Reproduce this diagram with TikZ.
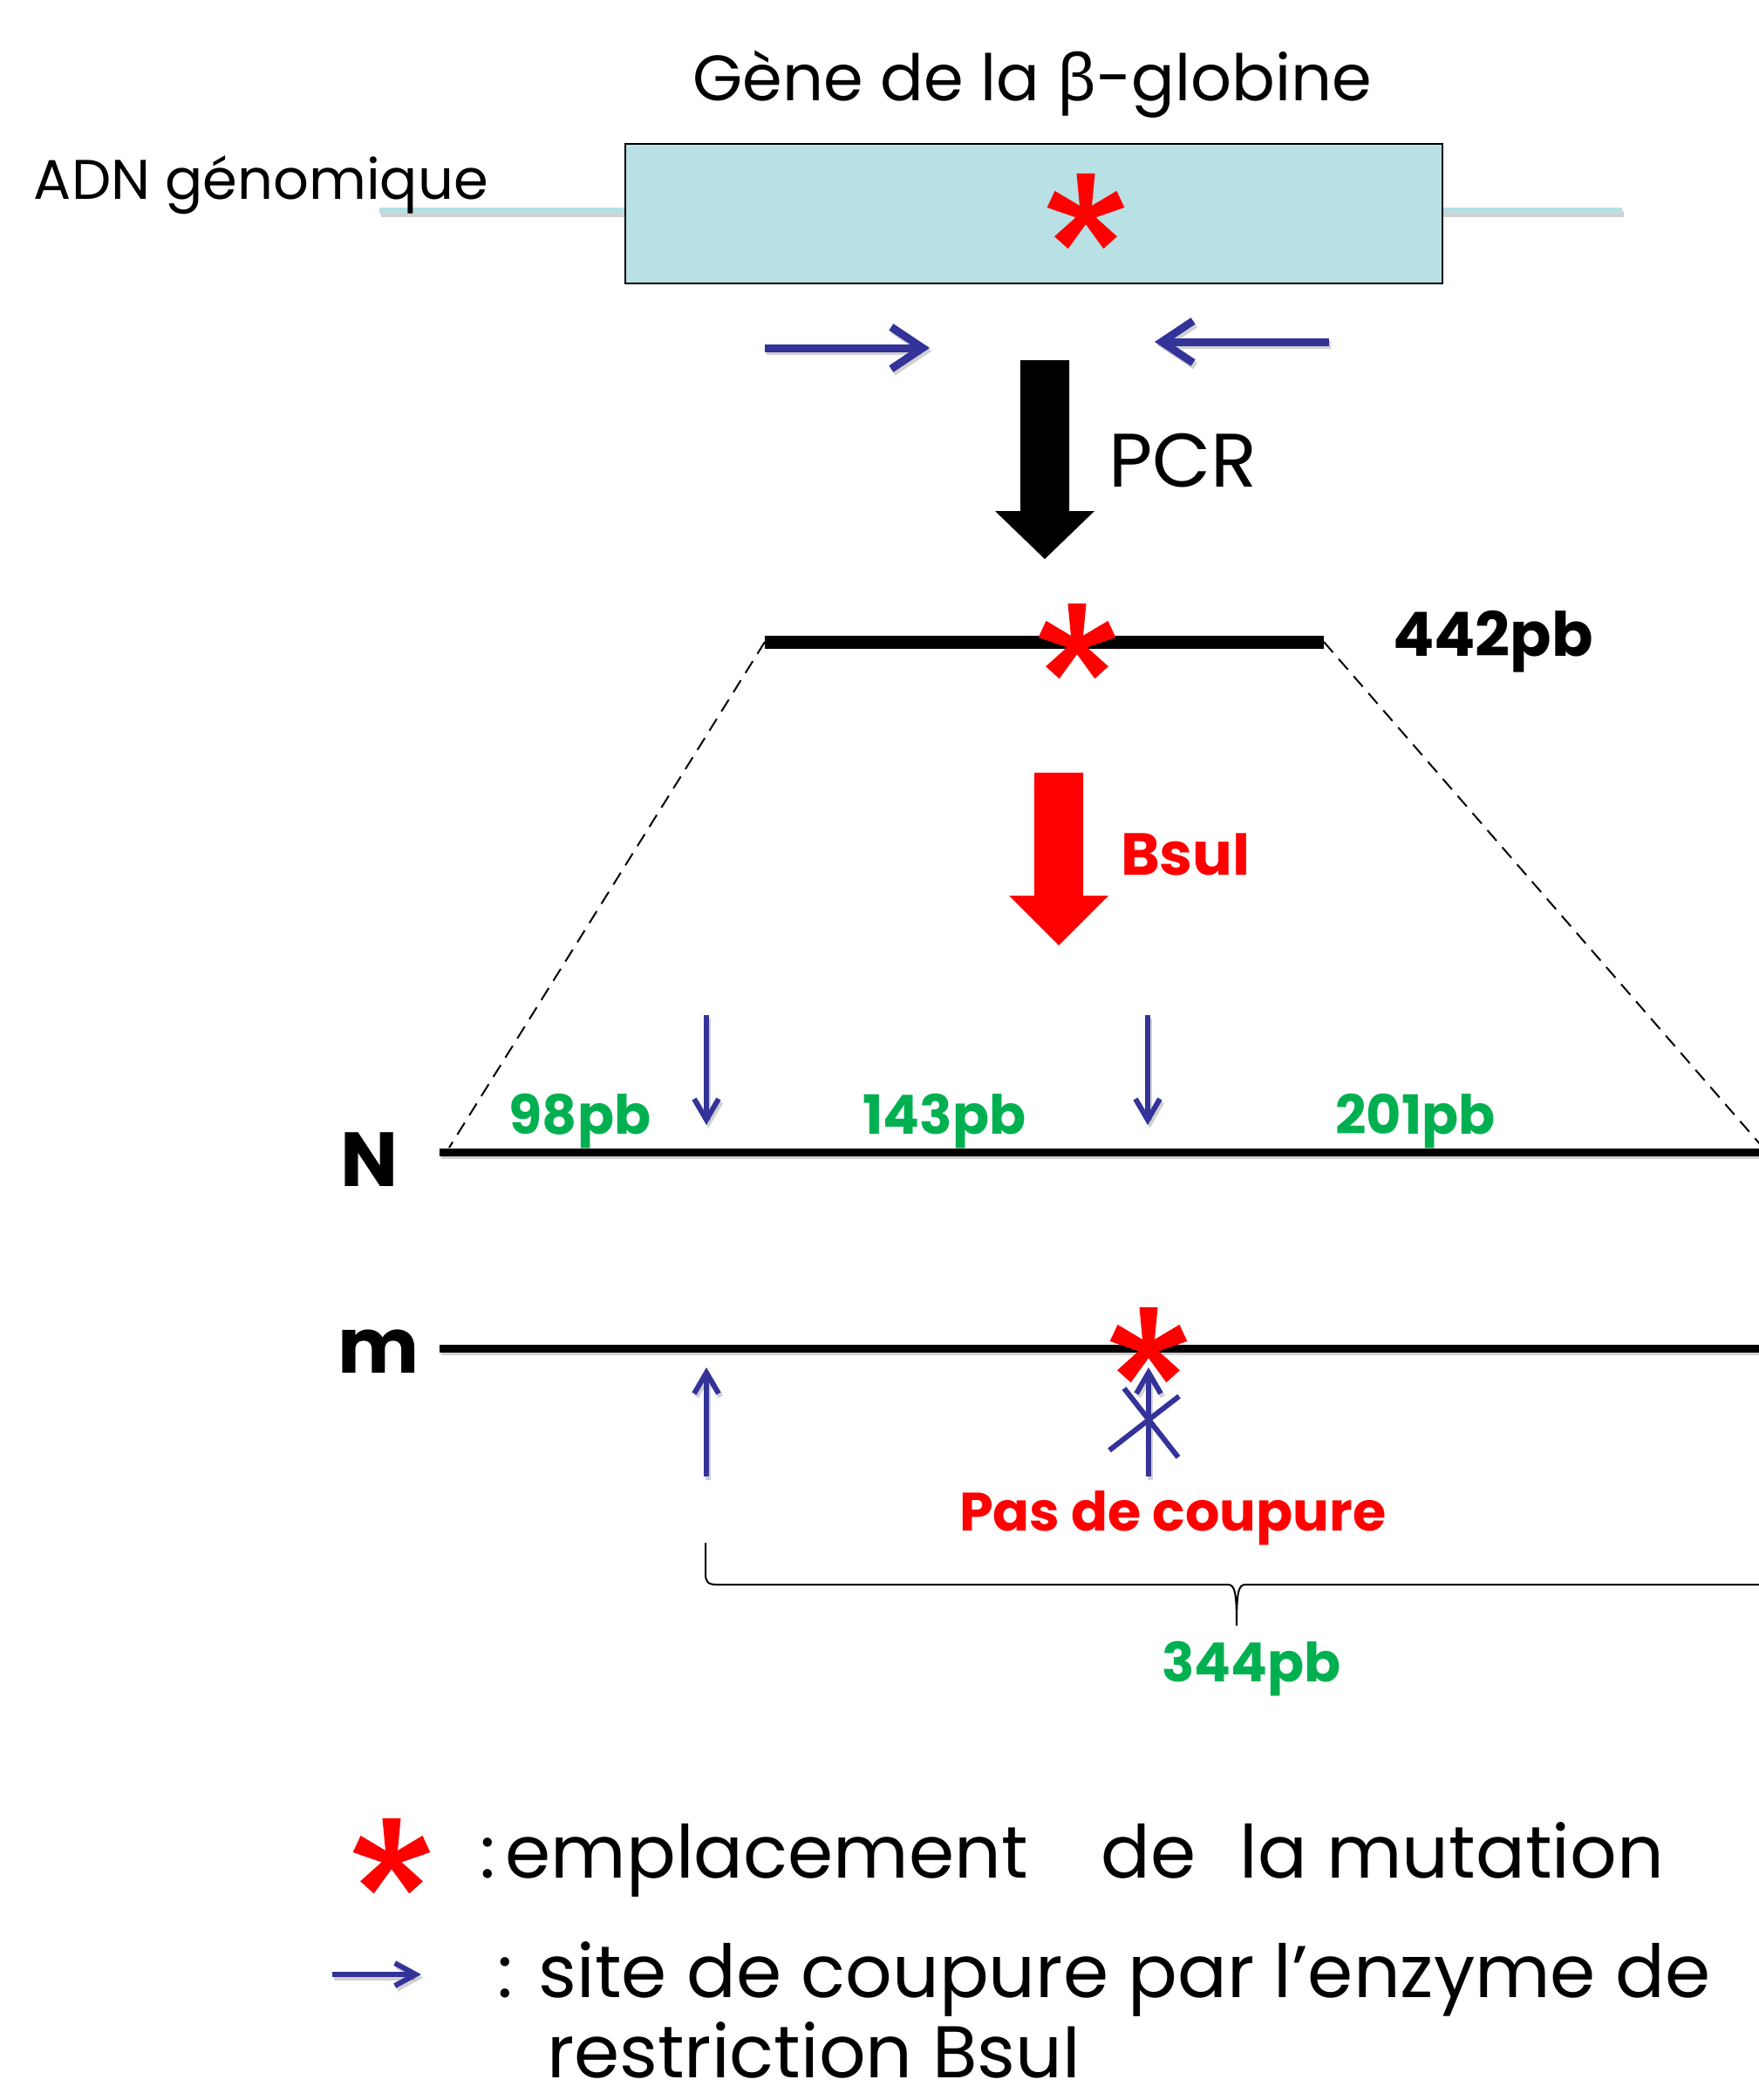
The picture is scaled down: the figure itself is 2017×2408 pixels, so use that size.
\documentclass[tikz,border=0pt]{standalone}
\usepackage{fontspec}
\setmainfont{Poppins}
\newfontfamily\grk{Noto Sans}
\usetikzlibrary{arrows.meta}

\definecolor{boxfill}{RGB}{185,224,228}
\definecolor{dnateal}{RGB}{183,222,226}
\definecolor{siteblue}{RGB}{51,51,153}
\definecolor{sizegreen}{RGB}{0,176,80}
\definecolor{mutred}{RGB}{255,0,0}
\newcommand\setfs[1]{\fontsize{#1}{#1}\selectfont}

\begin{document}
\begin{tikzpicture}[x=0.5pt,y=-0.5pt,
  lbl/.style={inner sep=0pt, outer sep=0pt},
  shadowcopy/.style={draw=black, draw opacity=0.18, transform canvas={xshift=1.2pt,yshift=-1.8pt}},
  primer/.style={draw=siteblue, line width=4.5pt, -{Straight Barb[length=18pt,width=24pt]}},
  cutsite/.style={draw=siteblue, line width=3pt, -{Straight Barb[length=12pt,width=14pt]}},
  legendarrow/.style={draw=siteblue, line width=3pt, -{Straight Barb[length=12pt,width=13pt]}},
  fragment/.style={draw=black, line width=4.5pt},
  amplicon/.style={draw=black, line width=7.5pt},
  zoomedge/.style={draw=black, line width=1pt, dash pattern=on 8pt off 5pt},
  sizelbl/.style={lbl, anchor=base, text=sizegreen, font=\bfseries\setfs{31pt}},
  alleleLbl/.style={lbl, anchor=base west, font=\bfseries\setfs{44pt}},
  legendtxt/.style={lbl, anchor=base west, font=\setfs{42pt}},
  mutstar/.pic={
    \foreach \a/\l in {90/48, 25/44, 155/44, -48/42, 228/42}
      \fill[mutred, rotate=\a] (0,-6) -- (\l,-10.5) -- (\l,10.5) -- (0,6) -- cycle;
    \fill[mutred] (0,0) circle (9);
  }
]
\path[use as bounding box] (0,0) rectangle (2017,2408);
\fill[white] (0,0) rectangle (2017,2408);
\clip (0,0) rectangle (2017,2408);

% ---------- genomic DNA and the beta-globin gene ----------
\coordinate (dnaL) at (435,242);
\coordinate (dnaR) at (1860,242);
\draw[shadowcopy, line width=3.5pt] (dnaL) -- (dnaR);
\draw[dnateal, line width=3.5pt] (dnaL) -- (dnaR);
\node (gene) [draw=black, line width=1pt, fill=boxfill, minimum width=468.5pt,
  minimum height=80pt, inner sep=0pt] at (1185.5,245) {};
\pic at (1245,247) {mutstar};
\node (title) [lbl, anchor=base] at (1184,116) {\setfs{36.8pt}Gène de la {\grk β}-globine};
\node (adn) [lbl, anchor=base west] at (39,228) {\setfs{32pt}ADN génomique};

% ---------- primers ----------
\coordinate (pf1) at (877,399);  \coordinate (pf2) at (1066,399);
\coordinate (pr1) at (1524,392); \coordinate (pr2) at (1324,392);
\draw[primer, shadowcopy] (pf1) -- (pf2);
\draw[primer, shadowcopy] (pr1) -- (pr2);
\draw[primer] (pf1) -- (pf2);
\draw[primer] (pr1) -- (pr2);

% ---------- PCR step ----------
\fill[black] (1170,413) -- (1226,413) -- (1226,586) -- (1255,586) -- (1198,641)
  -- (1141,586) -- (1170,586) -- cycle;
\node (pcr) [lbl, anchor=base west] at (1271,558) {\setfs{43.5pt}PCR};

% ---------- amplicon ----------
\coordinate (ampL) at (877,736);
\coordinate (ampR) at (1518,736);
\draw[amplicon] (ampL) -- (ampR);
\pic at (1235,740) {mutstar};
\node (size442) [lbl, anchor=base west] at (1597,752) {\bfseries\setfs{35pt}442pb};

% ---------- BsuI digestion ----------
\fill[mutred] (1186,886) -- (1242,886) -- (1242,1027) -- (1271,1027) -- (1214,1084)
  -- (1157,1027) -- (1186,1027) -- cycle;
\node (bsu) [lbl, anchor=base west, text=mutred] at (1285,1003) {\bfseries\setfs{34pt}BsuI};

% ---------- normal allele N ----------
\coordinate (nL) at (504,1321);
\coordinate (nR) at (2030,1321);
\coordinate (nZoom) at (515,1316);
\coordinate (nZoomR) at (2026,1321);
\draw[zoomedge] (ampL) -- (nZoom);
\draw[zoomedge] (ampR) -- (nZoomR);
\draw[shadowcopy, line width=4.5pt] (nL) -- (nR);
\draw[fragment] (nL) -- (nR);
\node (nlbl) [alleleLbl] at (390,1360) {N};
\coordinate (cutA1) at (810,1164); \coordinate (cutA2) at (810,1290);
\coordinate (cutB1) at (1316,1164); \coordinate (cutB2) at (1316,1290);
\draw[cutsite, shadowcopy] (cutA1) -- (cutA2);
\draw[cutsite, shadowcopy] (cutB1) -- (cutB2);
\draw[cutsite] (cutA1) -- (cutA2);
\draw[cutsite] (cutB1) -- (cutB2);
\node (f98) [sizelbl] at (665,1300) {98pb};
\node (f143) [sizelbl] at (1083,1300) {143pb};
\node (f201) [sizelbl] at (1623,1300) {201pb};

% ---------- mutant allele m ----------
\coordinate (mL) at (504,1546);
\coordinate (mR) at (2030,1546);
\draw[shadowcopy, line width=4.5pt] (mL) -- (mR);
\draw[fragment] (mL) -- (mR);
\node (mlbl) [alleleLbl] at (387,1574) {m};
\pic at (1317,1547) {mutstar};
\coordinate (mcutA1) at (810,1693); \coordinate (mcutA2) at (810,1568);
\coordinate (mcutB1) at (1317,1693); \coordinate (mcutB2) at (1317,1568);
\draw[cutsite, shadowcopy] (mcutA1) -- (mcutA2);
\draw[cutsite, shadowcopy] (mcutB1) -- (mcutB2);
\draw[cutsite] (mcutA1) -- (mcutA2);
\draw[cutsite] (mcutB1) -- (mcutB2);
% the lost site is crossed out
\coordinate (xa1) at (1272,1663); \coordinate (xa2) at (1352,1601);
\coordinate (xb1) at (1289,1592); \coordinate (xb2) at (1351,1671);
\draw[siteblue, line width=3pt] (xa1) -- (xa2);
\draw[siteblue, line width=3pt] (xb1) -- (xb2);
\node (nocut) [lbl, anchor=base west, text=mutred] at (1100,1755) {\bfseries\setfs{31pt}Pas de coupure};

% brace over the uncut 344 bp fragment
\draw[black, line width=1pt] (809,1769) -- (809,1805) .. controls (809,1814) and (812,1817) .. (822,1817)
  -- (1408,1817) .. controls (1416,1817) and (1418,1826) .. (1418,1864)
  .. controls (1418,1826) and (1420,1817) .. (1428,1817) -- (2030,1817);
\node (f344) [sizelbl] at (1435,1928) {344pb};

% ---------- legend ----------
\pic at (449,2133) {mutstar};
\node (leg1) [legendtxt] at (550,2153) {:\hspace{6pt}emplacement\hspace{42pt}de\hspace{25pt}la mutation};
\coordinate (lgA) at (381,2264); \coordinate (lgB) at (483,2264);
\draw[legendarrow, shadowcopy] (lgA) -- (lgB);
\draw[legendarrow] (lgA) -- (lgB);
\node (leg2) [legendtxt] at (570,2290) {: site de coupure par l’enzyme de};
\node (leg3) [legendtxt] at (627,2382) {restriction BsuI};
\end{tikzpicture}
\end{document}
